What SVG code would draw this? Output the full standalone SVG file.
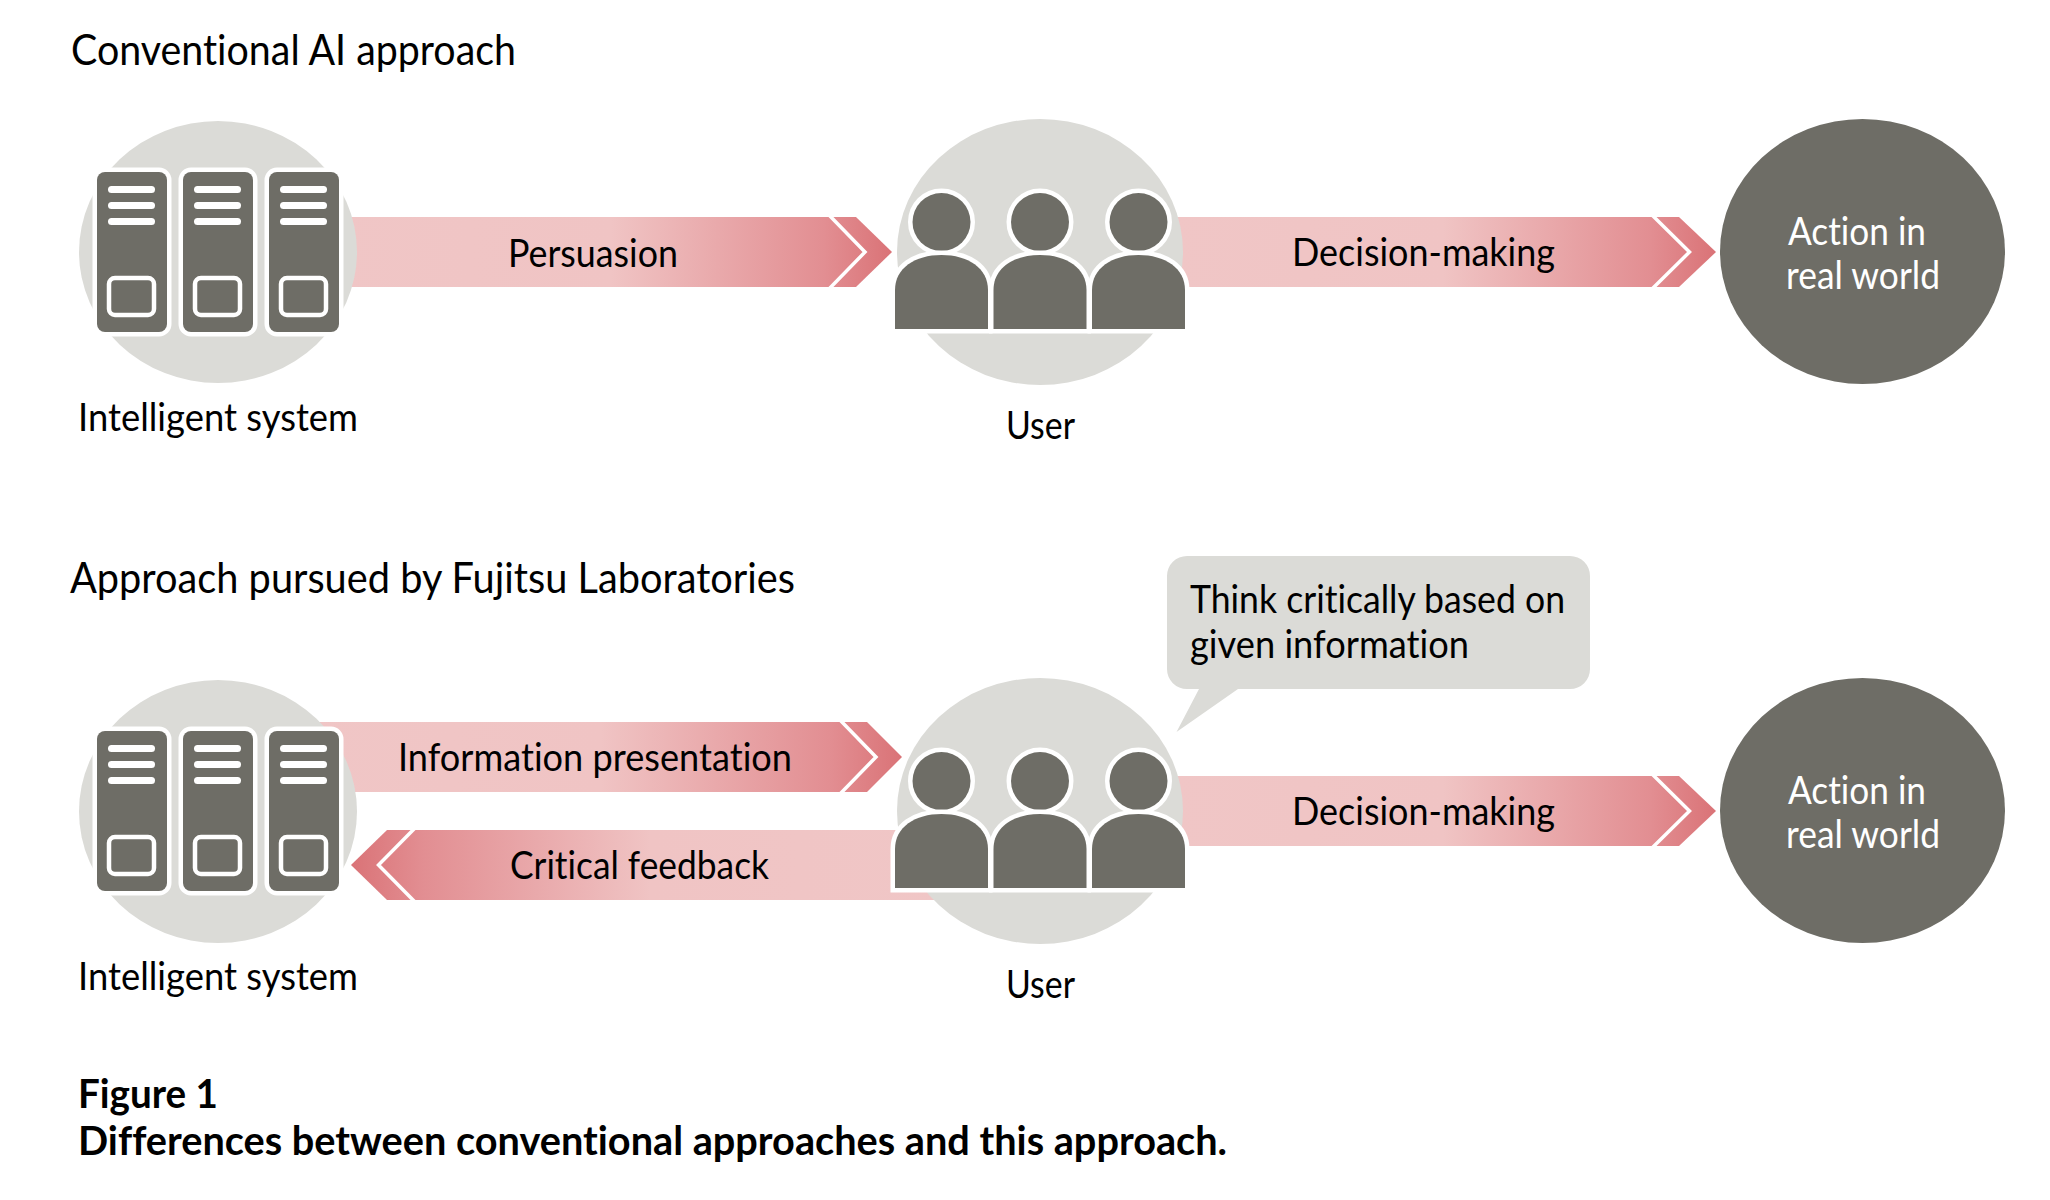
<svg xmlns="http://www.w3.org/2000/svg" width="2050" height="1200" viewBox="0 0 2050 1200">
<style>
text{font-family:"Lato","Open Sans","Liberation Sans",sans-serif;fill:#000;font-size:39px;font-variant-ligatures:none}
.title{font-size:43px}
.cap{font-size:40px;font-weight:700}
.inv{fill:#fff}
.bg{fill:#dbdbd7}
.dark{fill:#6e6d66}
.cab{fill:#6e6d66;stroke:#fff;stroke-width:9;paint-order:stroke}
.bar{fill:#fff}
.slot{fill:#6e6d66;stroke:#fff;stroke-width:4.500}
.head,.body{fill:#6e6d66;stroke:#fff;stroke-width:9;paint-order:stroke}
.chev{fill:none;stroke:#fff;stroke-width:3.500}
</style>
<defs>
<linearGradient id="gr" x1="0" x2="1" y1="0" y2="0"><stop offset="0" stop-color="#f0c6c6"/><stop offset=".5" stop-color="#f0c4c4"/><stop offset=".88" stop-color="#e28e92"/><stop offset="1" stop-color="#da7377"/></linearGradient>
<linearGradient id="gl" x1="1" x2="0" y1="0" y2="0"><stop offset="0" stop-color="#f0c6c6"/><stop offset=".5" stop-color="#f0c4c4"/><stop offset=".88" stop-color="#e28e92"/><stop offset="1" stop-color="#da7377"/></linearGradient>
<g id="cabinet">
<rect class="cab" x="0" y="0" width="70" height="160" rx="8"/>
<rect class="bar" x="11" y="14" width="47" height="7" rx="3.500"/>
<rect class="bar" x="11" y="30" width="47" height="7" rx="3.500"/>
<rect class="bar" x="11" y="46" width="47" height="7" rx="3.500"/>
<rect class="slot" x="12" y="106" width="45" height="37" rx="6"/>
</g>
<g id="person">
<ellipse class="head" cx="46.500" cy="-33" rx="29" ry="29"/>
<path class="body" d="M0 74V35C0 13 20 0 46.500 0S93 13 93 35V74Z"/>
</g>
</defs>
<g id="connectors">
<path id="persuasion" fill="url(#gr)" d="M330 217H856L892 252L856 287H330Z"/>
<polyline class="chev" points="829,215 865,252 829,289"/>
<path id="decision1" fill="url(#gr)" d="M1170 217H1679L1716 252L1679 287H1170Z"/>
<polyline class="chev" points="1652,215 1689.500,252 1652,289"/>
<path id="information" fill="url(#gr)" d="M300 722H867L902 757L867 792H300Z"/>
<polyline class="chev" points="840,720 876,757 840,794"/>
<path id="critical" fill="url(#gl)" d="M950 830H387L351 865L387 900H950Z"/>
<polyline class="chev" points="415,828 378.500,865 415,902"/>
<path id="decision2" fill="url(#gr)" d="M1170 776H1679L1716 811L1679 846H1170Z"/>
<polyline class="chev" points="1652,774 1689.500,811 1652,848"/>
</g>
<text class="title" x="71" y="65" textLength="445" lengthAdjust="spacingAndGlyphs">Conventional AI approach</text>
<text class="title" x="70" y="593" textLength="725" lengthAdjust="spacingAndGlyphs">Approach pursued by Fujitsu Laboratories</text>
<g id="system1">
<ellipse class="bg" cx="218" cy="252" rx="139" ry="131"/>
<use href="#cabinet" x="97" y="172"/><use href="#cabinet" x="183" y="172"/><use href="#cabinet" x="269" y="172"/>
<text x="78" y="431" textLength="280" lengthAdjust="spacingAndGlyphs">Intelligent system</text>
</g>
<g id="user1">
<ellipse class="bg" cx="1040" cy="252" rx="143" ry="133"/>
<use href="#person" x="895" y="255"/><use href="#person" x="993.500" y="255"/><use href="#person" x="1092" y="255"/>
<text x="1006" y="439" textLength="69" lengthAdjust="spacingAndGlyphs">User</text>
</g>
<g id="action1">
<ellipse class="dark" cx="1862.500" cy="251.500" rx="142.500" ry="132.500"/>
<text class="inv" x="1788" y="245" textLength="138" lengthAdjust="spacingAndGlyphs">Action in</text>
<text class="inv" x="1786" y="289" textLength="154" lengthAdjust="spacingAndGlyphs">real world</text>
</g>
<g id="system2">
<ellipse class="bg" cx="218" cy="811.500" rx="139" ry="131.500"/>
<use href="#cabinet" x="97" y="731"/><use href="#cabinet" x="183" y="731"/><use href="#cabinet" x="269" y="731"/>
<text x="78" y="990" textLength="280" lengthAdjust="spacingAndGlyphs">Intelligent system</text>
</g>
<g id="user2">
<ellipse class="bg" cx="1040" cy="811" rx="143" ry="133"/>
<use href="#person" x="895" y="814"/><use href="#person" x="993.500" y="814"/><use href="#person" x="1092" y="814"/>
<text x="1006" y="998" textLength="69" lengthAdjust="spacingAndGlyphs">User</text>
</g>
<g id="action2">
<ellipse class="dark" cx="1862.500" cy="810.500" rx="142.500" ry="132.500"/>
<text class="inv" x="1788" y="804" textLength="138" lengthAdjust="spacingAndGlyphs">Action in</text>
<text class="inv" x="1786" y="848" textLength="154" lengthAdjust="spacingAndGlyphs">real world</text>
</g>
<g id="labels">
<text x="508" y="267" textLength="170" lengthAdjust="spacingAndGlyphs">Persuasion</text>
<text x="1292" y="266" textLength="263" lengthAdjust="spacingAndGlyphs">Decision-making</text>
<text x="398" y="771" textLength="394" lengthAdjust="spacingAndGlyphs">Information presentation</text>
<text x="510" y="879" textLength="259" lengthAdjust="spacingAndGlyphs">Critical feedback</text>
<text x="1292" y="825" textLength="263" lengthAdjust="spacingAndGlyphs">Decision-making</text>
</g>
<g id="bubble">
<path class="bg" d="M1187 556H1570a20 20 0 0 1 20 20V669a20 20 0 0 1-20 20H1238L1176.500 732L1199 689H1187a20 20 0 0 1-20-20V576a20 20 0 0 1 20-20Z"/>
<text x="1190" y="613" textLength="375" lengthAdjust="spacingAndGlyphs">Think critically based on</text>
<text x="1190" y="658" textLength="279" lengthAdjust="spacingAndGlyphs">given information</text>
</g>
<g id="caption">
<text class="cap" x="78" y="1108" textLength="140" lengthAdjust="spacingAndGlyphs">Figure 1</text>
<text class="cap" x="78" y="1155" textLength="1149" lengthAdjust="spacingAndGlyphs">Differences between conventional approaches and this approach.</text>
</g>
</svg>
